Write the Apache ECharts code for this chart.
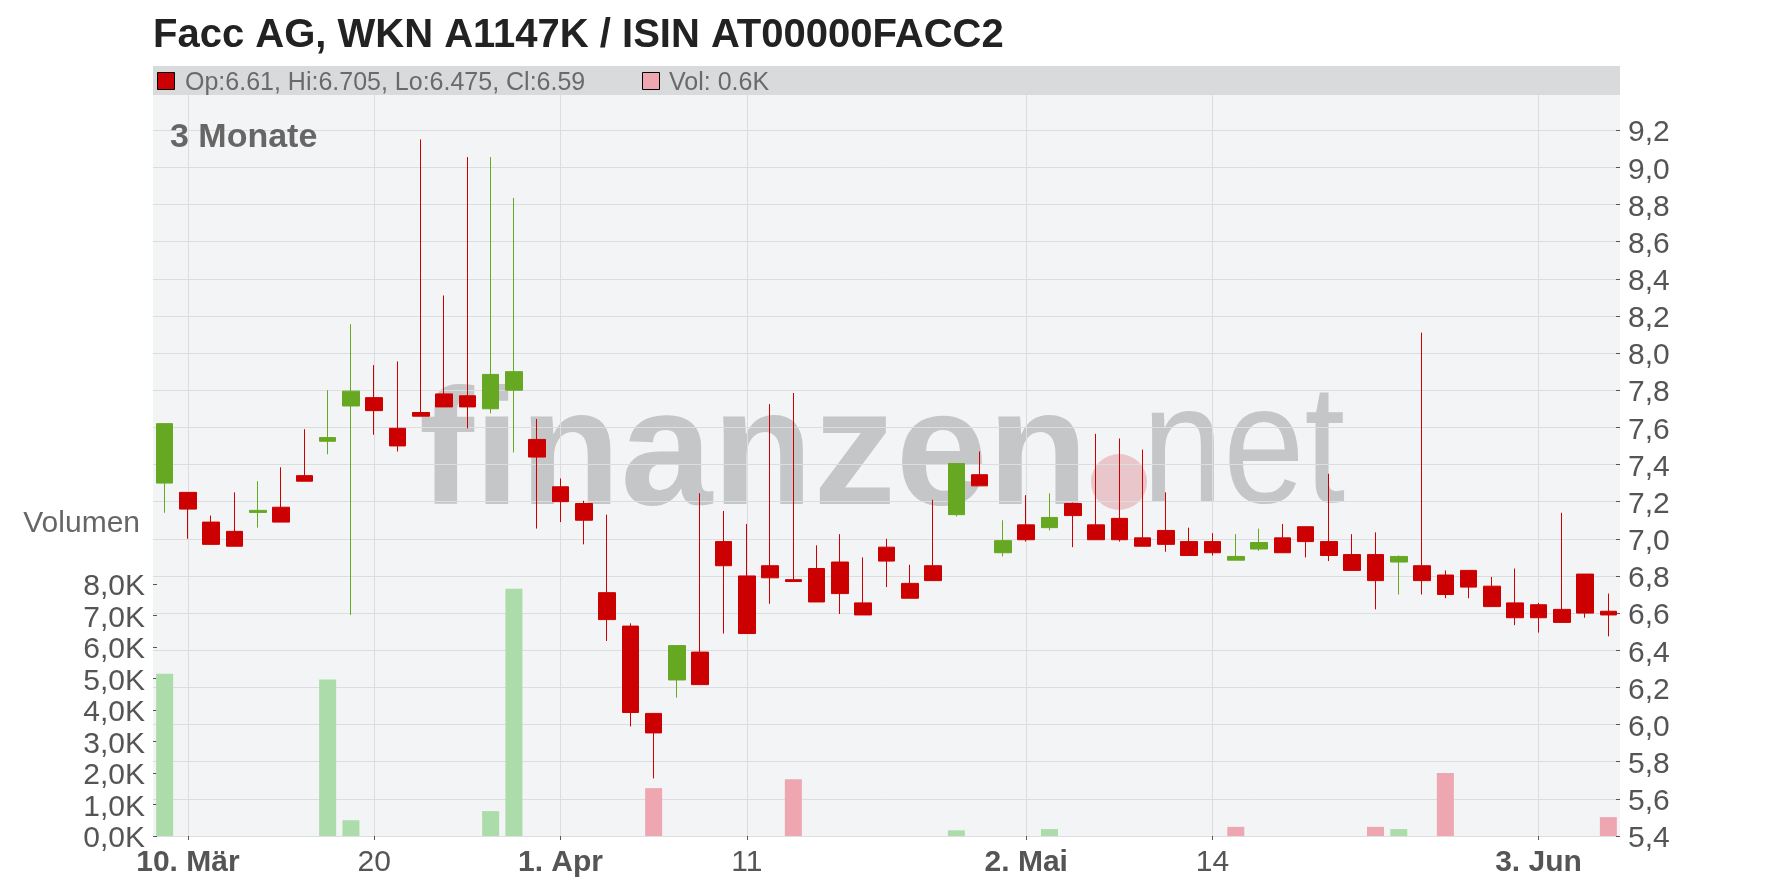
<!DOCTYPE html>
<html><head><meta charset="utf-8">
<script src="https://cdn.jsdelivr.net/npm/echarts@6/dist/echarts.min.js"></script>
<style>html,body{margin:0;padding:0;background:#fff}#c{width:1776px;height:888px}</style>
</head><body><div id="c"></div>
<script>
const FONT = '"Liberation Sans", Arial, sans-serif';

const titleText = 'Facc AG, WKN A1147K / ISIN AT00000FACC2';
const periodText = '3 Monate';
const volumeTitle = 'Volumen';
const legendOHLC = 'Op:6.61, Hi:6.705, Lo:6.475, Cl:6.59';
const legendVol = 'Vol: 0.6K';

const dates = [
 '2025-03-07','2025-03-10','2025-03-11','2025-03-12','2025-03-13','2025-03-14',
 '2025-03-17','2025-03-18','2025-03-19','2025-03-20','2025-03-21',
 '2025-03-24','2025-03-25','2025-03-26','2025-03-27','2025-03-28','2025-03-31',
 '2025-04-01','2025-04-02','2025-04-03','2025-04-04',
 '2025-04-07','2025-04-08','2025-04-09','2025-04-10','2025-04-11',
 '2025-04-14','2025-04-15','2025-04-16','2025-04-17',
 '2025-04-22','2025-04-23','2025-04-24','2025-04-25',
 '2025-04-28','2025-04-29','2025-04-30','2025-05-02',
 '2025-05-05','2025-05-06','2025-05-07','2025-05-08','2025-05-09',
 '2025-05-12','2025-05-13','2025-05-14','2025-05-15','2025-05-16',
 '2025-05-19','2025-05-20','2025-05-21','2025-05-22','2025-05-23',
 '2025-05-26','2025-05-27','2025-05-28','2025-05-29','2025-05-30',
 '2025-06-02','2025-06-03','2025-06-04','2025-06-05','2025-06-06'
];

const open = [7.30,7.25,7.09,7.04,7.142,7.17,7.34,7.525,7.715,7.76,7.595,7.68,7.78,7.77,7.70,7.80,7.535,
 7.28,7.19,6.71,6.53,6.06,6.24,6.39,6.985,6.80,6.855,6.78,6.84,6.875,6.655,6.955,6.76,6.855,7.13,7.345,6.925,7.075,
 7.06,7.19,7.075,7.11,7.005,7.045,6.985,6.985,6.885,6.945,7.005,7.065,6.985,6.915,6.915,6.875,6.855,6.805,6.83,6.745,
 6.655,6.645,6.62,6.81,6.61];
const close = [7.62,7.16,6.97,6.96,7.153,7.09,7.31,7.545,7.795,7.69,7.50,7.66,7.71,7.71,7.885,7.90,7.44,
 7.20,7.10,6.565,6.065,5.955,6.425,6.215,6.855,6.49,6.79,6.77,6.66,6.705,6.59,6.88,6.68,6.775,7.405,7.285,6.99,6.995,
 7.115,7.125,6.995,6.995,6.96,6.97,6.91,6.925,6.905,6.98,6.925,6.985,6.91,6.83,6.775,6.905,6.775,6.70,6.74,6.635,
 6.575,6.575,6.55,6.60,6.59];
const high = [7.62,7.25,7.125,7.25,7.31,7.385,7.59,7.80,8.155,7.935,7.955,9.15,8.31,9.055,9.055,8.835,7.645,
 7.325,7.205,7.13,6.545,6.06,6.425,7.245,7.15,7.08,7.725,7.785,6.965,7.025,6.90,7.00,6.86,7.21,7.405,7.47,7.10,7.235,
 7.245,7.195,7.565,7.54,7.48,7.25,7.06,7.03,7.025,7.055,7.08,7.065,7.35,7.025,7.035,6.91,8.11,6.83,6.83,6.795,
 6.84,6.655,7.14,6.81,6.705];
const low = [7.14,7.00,6.97,6.96,7.06,7.09,7.31,7.455,6.59,7.56,7.47,7.66,7.71,7.595,7.675,7.465,7.055,
 7.09,6.97,6.45,5.99,5.71,6.145,6.215,6.49,6.49,6.65,6.77,6.66,6.595,6.59,6.74,6.68,6.775,7.12,7.285,6.905,6.985,
 7.045,6.955,6.995,6.985,6.96,6.93,6.91,6.91,6.885,6.935,6.925,6.90,6.88,6.83,6.62,6.70,6.70,6.68,6.68,6.635,
 6.535,6.495,6.55,6.575,6.475];
// volume in thousands
const volumeK = [5.15,0,0,0,0,0,0,4.97,0.5,0,0,0,0,0,0.79,7.85,0,
 0,0,0,0,1.52,0,0,0,0,0,1.8,0,0,0,0,0,0,0.18,0,0,0,
 0.22,0,0,0,0,0,0,0,0.29,0,0,0,0,0,0.29,0.22,0,2.0,0,0,
 0,0,0,0,0.6];

const tickDates = ['2025-03-10','2025-03-20','2025-04-01','2025-04-11','2025-05-02','2025-05-14','2025-06-03'];
const tickLabels = ['10. Mär','20','1. Apr','11','2. Mai','14','3. Jun'];
const tickBold = [true,false,true,false,true,false,true];

const UP = '#66a822', DOWN = '#cc0000', VOL_UP = '#abdca9', VOL_DOWN = '#eea7b0';

const candleData = dates.map((d,i)=>[open[i], close[i], low[i], high[i]]);
const volData = volumeK.map((v,i)=>({
  value: v,
  itemStyle: { color: (i === 0 || close[i] >= close[i-1]) ? VOL_UP : VOL_DOWN }
}));

const isTick = (i, v) => tickDates.indexOf(v) >= 0;
const yLabelRich = { a: { fontSize: 30, color: '#555', fontFamily: FONT, padding: [6, 0, 0, 0] } };

const chart = echarts.init(document.getElementById('c'), null, {renderer:'canvas'});
chart.setOption({
  animation: false,
  backgroundColor: '#ffffff',
  textStyle: { fontFamily: FONT },
  grid: [
    { left: 153, right: 156, top: 93, bottom: 52, outerBoundsMode: 'none', containLabel: false },
    { left: 153, right: 156, top: 584, bottom: 52, outerBoundsMode: 'none', containLabel: false }
  ],
  xAxis: [
    { type: 'category', gridIndex: 0, data: dates, boundaryGap: true,
      axisLine: { show: false },
      axisTick: { show: true, alignWithLabel: true, interval: isTick, length: 4, lineStyle: { color: '#555' } },
      splitLine: { show: true, alignWithLabel: true, interval: isTick, lineStyle: { color: '#dcdddf', width: 1 } },
      axisLabel: { show: true, interval: isTick, margin: 12, color: '#555', fontSize: 30, fontFamily: FONT,
        formatter: (v) => { const k = tickDates.indexOf(v); if (k < 0) return ''; return tickBold[k] ? '{b|' + tickLabels[k] + '}' : '{n|' + tickLabels[k] + '}'; },
        rich: { b: { fontWeight: 'bold', fontSize: 30, color: '#555', fontFamily: FONT }, n: { fontSize: 30, color: '#555', fontFamily: FONT } } }
    },
    { type: 'category', gridIndex: 1, data: dates, boundaryGap: true, show: false }
  ],
  yAxis: [
    { type: 'value', gridIndex: 0, position: 'right', min: 5.4, max: 9.4, interval: 0.2,
      axisLine: { show: false },
      axisTick: { show: true, inside: true, length: 4, lineStyle: { color: '#555' } },
      axisLabel: { color: '#555', fontSize: 30, fontFamily: FONT, margin: 8, showMaxLabel: false,
        formatter: (v) => '{a|' + v.toFixed(1).replace('.', ',') + '}', rich: yLabelRich },
      splitLine: { show: true, lineStyle: { color: '#dcdddf', width: 1 } }
    },
    { type: 'value', gridIndex: 1, position: 'left', min: 0, max: 8, interval: 1,
      axisLine: { show: false },
      axisTick: { show: true, inside: true, length: 4, lineStyle: { color: '#555' } },
      axisLabel: { color: '#555', fontSize: 30, fontFamily: FONT, margin: 8,
        formatter: (v) => '{a|' + v.toFixed(1).replace('.', ',') + 'K}', rich: yLabelRich },
      splitLine: { show: false }
    }
  ],
  series: [
    { type: 'bar', name: 'Vol', xAxisIndex: 1, yAxisIndex: 1, data: volData, barWidth: 17, z: 2, silent: true },
    { type: 'candlestick', name: 'Kurs', xAxisIndex: 0, yAxisIndex: 0, data: candleData, barWidth: 17, z: 3, silent: true,
      itemStyle: { color: UP, color0: DOWN, borderColor: UP, borderColor0: DOWN, borderWidth: 1 } }
  ],
  graphic: { elements: [
    { type: 'rect', z: -100, silent: true, shape: { x: 153, y: 93, width: 1467, height: 743 }, style: { fill: '#f3f4f6' } },
    { type: 'text', z: -90, silent: true, x: 419, y: 458, style: { text: 'finanzen', font: 'bold 165px ' + FONT, fill: '#c5c6c8', align: 'left', verticalAlign: 'middle' } },
    { type: 'circle', z: -90, silent: true, shape: { cx: 1119, cy: 482, r: 28 }, style: { fill: '#e9c6ca' } },
    { type: 'text', z: -90, silent: true, x: 1142, y: 456, scaleX: 0.87, style: { text: 'net', font: '168px ' + FONT, fill: '#c5c6c8', align: 'left', verticalAlign: 'middle' } },
    { type: 'rect', z: 100, silent: true, shape: { x: 153, y: 66, width: 1467, height: 29 }, style: { fill: '#d9dadb' } },
    { type: 'rect', z: 101, silent: true, shape: { x: 157.5, y: 72.5, width: 17, height: 17 }, style: { fill: DOWN, stroke: '#000', lineWidth: 1 } },
    { type: 'text', z: 101, silent: true, x: 185, y: 83, style: { text: legendOHLC, font: '25px ' + FONT, fill: '#6a6a6a', verticalAlign: 'middle' } },
    { type: 'rect', z: 101, silent: true, shape: { x: 642.5, y: 72.5, width: 17, height: 17 }, style: { fill: VOL_DOWN, stroke: '#000', lineWidth: 1 } },
    { type: 'text', z: 101, silent: true, x: 669, y: 83, style: { text: legendVol, font: '25px ' + FONT, fill: '#6a6a6a', verticalAlign: 'middle' } },
    { type: 'text', z: 101, silent: true, x: 153, y: 36, style: { text: titleText, font: 'bold 40px ' + FONT, fill: '#222', verticalAlign: 'middle' } },
    { type: 'text', z: 101, silent: true, x: 170, y: 138, style: { text: periodText, font: 'bold 34px ' + FONT, fill: '#666', verticalAlign: 'middle' } },
    { type: 'text', z: 101, silent: true, x: 140, y: 524, style: { text: volumeTitle, font: '30px ' + FONT, fill: '#666', align: 'right', verticalAlign: 'middle' } }
  ]}
});
</script>
</body></html>
